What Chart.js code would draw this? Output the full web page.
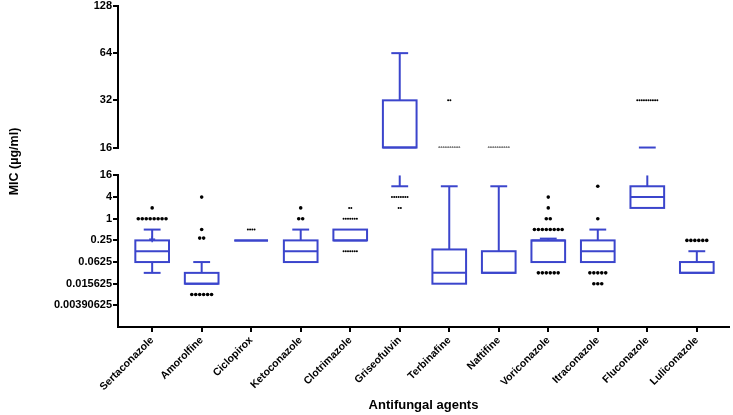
<!DOCTYPE html>
<html>
<head>
<meta charset="utf-8">
<script src="https://cdn.jsdelivr.net/npm/chart.js@4.4.1/dist/chart.umd.min.js"></script>
<style>
  html, body { margin: 0; padding: 0; background: #fff; }
  #wrap { width: 733px; height: 415px; }
</style>
</head>
<body>
<div id="wrap"><canvas id="c" width="733" height="415"></canvas></div>
<script>
// ===== data (MIC, µg/ml) =====
const agents = ['Sertaconazole', 'Amorolfine', 'Ciclopirox', 'Ketoconazole', 'Clotrimazole', 'Griseofulvin',
                'Terbinafine', 'Naftifine', 'Voriconazole', 'Itraconazole', 'Fluconazole', 'Luliconazole'];

const q1          = [0.0625, 0.015625, 0.25, 0.0625, 0.25, 16, 0.015625, 0.03125, 0.0625, 0.0625, 2, 0.03125];
const median      = [0.125,  0.015625, 0.25, 0.125,  0.25, 16, 0.03125,  0.03125, 0.25,   0.125,  4, 0.03125];
const q3          = [0.25,   0.03125,  0.25, 0.25,   0.5,  32, 0.14,     0.125,   0.25,   0.25,   8, 0.0625];
const whiskerLow  = [0.03125, 0.015625, 0.25, 0.0625, 0.25, 8, 0.015625, 0.03125, 0.0625, 0.0625, 2, 0.03125];
const whiskerHigh = [0.5,    0.0625,   0.25, 0.5,    0.5,  64, 8,        8,       0.28,   0.5,   16, 0.125];
const means       = [0.27, null, null, null, null, null, null, null, null, null, null, null];

// outliers per agent: [value, how many isolates]
const outliers = [
  [[1, 8], [2, 1]],
  [[0.0078125, 6], [0.29, 2], [0.5, 1], [4, 1]],
  [[0.5, 4]],
  [[1, 2], [2, 1]],
  [[0.125, 7], [1, 7], [2, 2]],
  [[4, 8], [2, 2]],
  [[16, 10], [32, 2]],
  [[16, 10]],
  [[4, 1], [2, 1], [1, 2], [0.5, 8], [0.03125, 6]],
  [[8, 1], [1, 1], [0.03125, 5], [0.015625, 3]],
  [[32, 10]],
  [[0.25, 6]]
];

const lowTicks  = [0.00390625, 0.015625, 0.0625, 0.25, 1, 4, 16];
const highTicks = [16, 32, 64, 128];
const BREAK = 16;

// agents whose dots are drawn small (dense rows)
const smallDotAgents = ['Ciclopirox', 'Clotrimazole', 'Griseofulvin', 'Terbinafine', 'Naftifine', 'Fluconazole'];

// ===== style =====
const BLUE = '#3b45cc';
const FONT = "'Liberation Sans', Arial, sans-serif";
const tickFont  = { family: FONT, size: 11, weight: 'bold', lineHeight: 0.9 };
const xTickFont = { family: FONT, size: 10.5, weight: 'bold' };
const titleFont = { family: FONT, size: 12.5, weight: 'bold' };
const xTitleFont = { family: FONT, size: 13, weight: 'bold' };

function dotPoints(upper, small) {
  const pts = [];
  outliers.forEach((list, i) => {
    if (smallDotAgents.includes(agents[i]) !== small) return;
    const step = small ? 0.045 : 0.08;
    list.forEach(([v, n]) => {
      if ((v >= BREAK) !== upper) return;
      for (let k = 0; k < n; k++) pts.push({ x: i + (k - (n - 1) / 2) * step, y: v });
    });
  });
  return pts;
}

// ===== box & whisker drawing through the chart scales =====
const boxPlugin = {
  id: 'boxes',
  afterDatasetsDraw(chart) {
    const { ctx, scales } = chart;
    const x = scales.x, lo = scales.yLow, hi = scales.yHigh;
    const parts = (a, b) => a >= BREAK ? [[hi, a, b]]
                         : b <= BREAK ? [[lo, a, b]]
                         : [[lo, a, BREAK], [hi, BREAK, b]];
    const yOf = v => (v >= BREAK ? hi : lo).getPixelForValue(v);
    const hline = (x0, x1, y) => { ctx.beginPath(); ctx.moveTo(x0, y); ctx.lineTo(x1, y); ctx.stroke(); };

    ctx.save();
    ctx.strokeStyle = BLUE;
    ctx.lineWidth = 2;
    agents.forEach((_, i) => {
      const xc = x.getPixelForValue(i);
      const bw = x.getPixelForValue(i + 0.34) - xc;
      const cw = bw / 2;

      // whisker stems
      [[whiskerLow[i], q1[i]], [q3[i], whiskerHigh[i]]].forEach(([a, b]) => {
        if (b <= a) return;
        parts(a, b).forEach(([s, p, q]) => {
          if (q <= p) return;
          ctx.beginPath();
          ctx.moveTo(xc, s.getPixelForValue(p));
          ctx.lineTo(xc, s.getPixelForValue(q));
          ctx.stroke();
        });
      });
      // caps
      if (whiskerLow[i] < q1[i]) hline(xc - cw, xc + cw, yOf(whiskerLow[i]));
      if (whiskerHigh[i] > q3[i]) hline(xc - cw, xc + cw, yOf(whiskerHigh[i]));

      // box
      parts(q1[i], q3[i]).forEach(([s, p, q]) => {
        const yt = s.getPixelForValue(q), yb = s.getPixelForValue(p);
        ctx.strokeRect(xc - bw, yt, 2 * bw, yb - yt);
      });
      // median
      hline(xc - bw, xc + bw, yOf(median[i]));

      // mean "+"
      if (means[i] != null) {
        const ym = yOf(means[i]);
        ctx.lineWidth = 1.5;
        hline(xc - 3, xc + 3, ym);
        ctx.beginPath(); ctx.moveTo(xc, ym - 3); ctx.lineTo(xc, ym + 3); ctx.stroke();
        ctx.lineWidth = 2;
      }
    });
    ctx.restore();
  }
};

const yAxisBase = {
  type: 'logarithmic',
  axis: 'y',
  position: 'left',
  stack: 'y',
  bounds: 'data',
  afterFit: s => { s.width = 115; },
  ticks: { callback: v => String(v), font: tickFont, color: '#000', padding: 1, autoSkip: false },
  grid: { drawOnChartArea: false, drawTicks: true, tickLength: 5, color: '#000', lineWidth: 2 },
  border: { color: '#000', width: 2 }
};

new Chart(document.getElementById('c'), {
  type: 'scatter',
  data: {
    datasets: [
      { data: dotPoints(false, false), yAxisID: 'yLow',  pointRadius: 1.8, backgroundColor: '#000', borderWidth: 0 },
      { data: dotPoints(false, true),  yAxisID: 'yLow',  pointRadius: 1.0, backgroundColor: '#000', borderWidth: 0 },
      { data: dotPoints(true, false),  yAxisID: 'yHigh', pointRadius: 1.8, backgroundColor: '#000', borderWidth: 0 },
      { data: dotPoints(true, true),   yAxisID: 'yHigh', pointRadius: 1.0, backgroundColor: '#000', borderWidth: 0 }
    ]
  },
  options: {
    responsive: false,
    animation: false,
    layout: { padding: { left: 3, right: 3, top: 0, bottom: 2 } },
    plugins: { legend: { display: false }, tooltip: { enabled: false } },
    scales: {
      x: {
        type: 'linear', position: 'bottom', bounds: 'data',
        min: -0.69, max: 11.65,
        afterBuildTicks: s => { s.ticks = agents.map((_, i) => ({ value: i })); },
        afterFit: s => { s.height = 86; },
        ticks: { callback: v => agents[v], autoSkip: false, maxRotation: 45, minRotation: 45,
                 font: xTickFont, color: '#000', padding: 2 },
        grid: { drawOnChartArea: false, drawTicks: true, tickLength: 5, color: '#000', lineWidth: 2 },
        border: { color: '#000', width: 2 },
        title: { display: true, text: 'Antifungal agents', font: xTitleFont, color: '#000', padding: { top: 4, bottom: 0 } }
      },
      yHigh: Object.assign({}, yAxisBase, {
        min: 16, max: 128, stackWeight: 142, weight: 3,
        afterBuildTicks: s => { s.ticks = highTicks.map(v => ({ value: v })); }
      }),
      yGap: {
        type: 'linear', axis: 'y', position: 'left', stack: 'y', stackWeight: 28, weight: 2,
        ticks: { display: false }, grid: { display: false }, border: { display: false },
        title: { display: true, text: 'MIC (µg/ml)', font: titleFont, color: '#000', padding: 4 }
      },
      yLow: Object.assign({}, yAxisBase, {
        min: Math.pow(2, -10), max: 16, stackWeight: 152, weight: 1,
        afterBuildTicks: s => { s.ticks = lowTicks.map(v => ({ value: v })); }
      })
    }
  },
  plugins: [boxPlugin]
});
</script>
</body>
</html>
